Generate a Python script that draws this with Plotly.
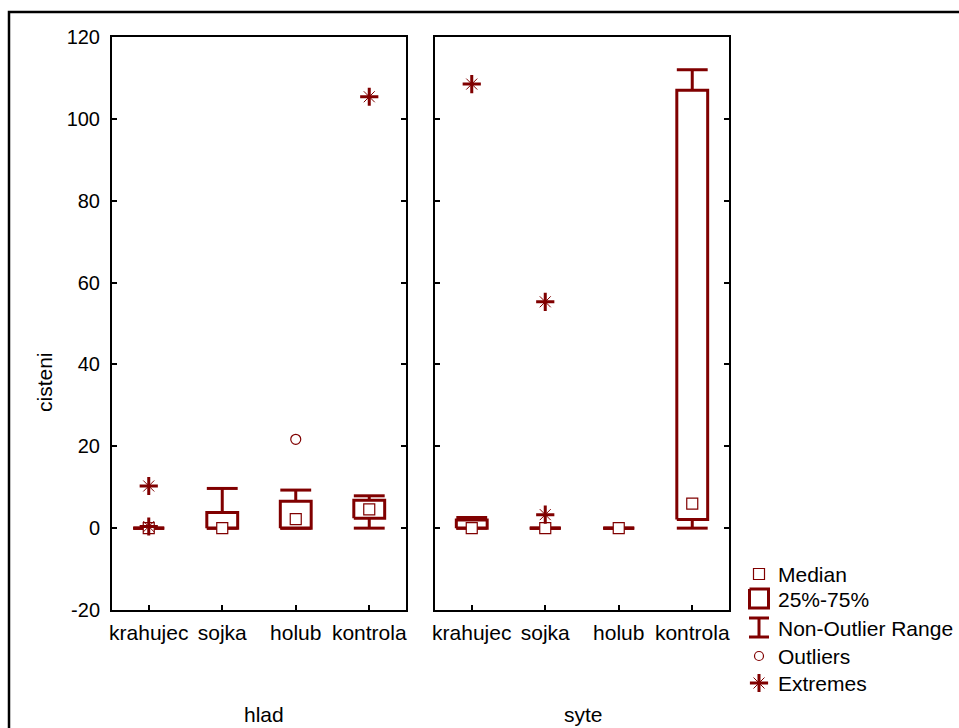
import plotly.graph_objects as go

# ---- data -------------------------------------------------------------
categories = ["krahujec", "sojka", "holub", "kontrola"]
groups = ["hlad", "syte"]

# box statistics, one value per category (same order as `categories`)
hlad_q1 = [0.0, 0.0, 0.0, 2.4]
hlad_median = [0.0, 0.0, 2.2, 4.6]
hlad_q3 = [0.0, 3.8, 6.6, 6.8]
hlad_low = [0.0, 0.0, 0.0, 0.0]
hlad_high = [0.0, 9.7, 9.3, 7.9]

syte_q1 = [0.0, 0.0, 0.0, 2.1]
syte_median = [0.0, 0.0, 0.0, 6.0]
syte_q3 = [2.0, 0.0, 0.0, 107.0]
syte_low = [0.0, 0.0, 0.0, 0.0]
syte_high = [2.6, 0.0, 0.0, 112.0]

# outliers and extremes: category index + value
hlad_outlier_cat = [2]
hlad_outlier_val = [21.7]
hlad_extreme_cat = [0, 0, 3]
hlad_extreme_val = [10.3, 0.4, 105.4]

syte_outlier_cat = []
syte_outlier_val = []
syte_extreme_cat = [0, 1, 1]
syte_extreme_val = [108.5, 55.3, 3.3]

y_ticks = [-20, 0, 20, 40, 60, 80, 100, 120]
y_tick_labels = ["-20", "0", "20", "40", "60", "80", "100", "120"]

# ---- styling ----------------------------------------------------------
W, H = 959, 728
RED = "#800000"
FONT = "Liberation Sans, Arial, sans-serif"
FS = 21
HALF = 0.21  # half box width in category units


def px(x):
    return x / W


def py(y):
    return 1 - y / H


panels = {
    "hlad": dict(q1=hlad_q1, med=hlad_median, q3=hlad_q3, lo=hlad_low, hi=hlad_high,
                 oc=hlad_outlier_cat, ov=hlad_outlier_val,
                 ec=hlad_extreme_cat, ev=hlad_extreme_val, xa="x", ya="y"),
    "syte": dict(q1=syte_q1, med=syte_median, q3=syte_q3, lo=syte_low, hi=syte_high,
                 oc=syte_outlier_cat, ov=syte_outlier_val,
                 ec=syte_extreme_cat, ev=syte_extreme_val, xa="x2", ya="y2"),
}

median_marker = dict(symbol="square", size=11, color="white", line=dict(color=RED, width=1.2))
outlier_marker = dict(symbol="circle-open", size=10, color=RED, line=dict(color=RED, width=1.2))
extreme_diag = dict(symbol="x-thin-open", size=11, color=RED, line=dict(color=RED, width=1))
extreme_cross = dict(symbol="cross-thin-open", size=13, color=RED, line=dict(color=RED, width=3))

fig = go.Figure()

for name, p in panels.items():
    xs, ys = [], []
    for i in range(len(categories)):
        q1, q3, lo, hi = p["q1"][i], p["q3"][i], p["lo"][i], p["hi"][i]
        l, r = i - HALF, i + HALF
        # box
        xs += [l, r, r, l, l, None]
        ys += [q1, q1, q3, q3, q1, None]
        # upper whisker + cap
        xs += [i, i, None, l, r, None]
        ys += [q3, hi, None, hi, hi, None]
        # lower whisker + cap
        xs += [i, i, None, l, r, None]
        ys += [q1, lo, None, lo, lo, None]
    common = dict(xaxis=p["xa"], yaxis=p["ya"], showlegend=False, hoverinfo="skip")
    fig.add_trace(go.Scatter(x=xs, y=ys, mode="lines", line=dict(color=RED, width=3), **common))
    fig.add_trace(go.Scatter(x=list(range(len(categories))), y=p["med"], mode="markers",
                             marker=median_marker, **common))
    fig.add_trace(go.Scatter(x=p["oc"], y=p["ov"], mode="markers", marker=outlier_marker, **common))
    fig.add_trace(go.Scatter(x=p["ec"], y=p["ev"], mode="markers", marker=extreme_diag, **common))
    fig.add_trace(go.Scatter(x=p["ec"], y=p["ev"], mode="markers", marker=extreme_cross, **common))

# ---- legend glyphs on a pixel-space overlay axis ----------------------
LX = 759
leg_y = {"Median": 574, "25%-75%": 599, "Non-Outlier Range": 628,
         "Outliers": 656, "Extremes": 683}
lg = dict(xaxis="x3", yaxis="y3", showlegend=False, hoverinfo="skip")
fig.add_trace(go.Scatter(x=[LX], y=[leg_y["Median"]], mode="markers", marker=median_marker, **lg))
fig.add_trace(go.Scatter(x=[LX - 9.5, LX + 9.5, LX + 9.5, LX - 9.5, LX - 9.5],
                         y=[589, 589, 608, 608, 589], mode="lines",
                         line=dict(color=RED, width=3), **lg))
fig.add_trace(go.Scatter(x=[LX - 10, LX + 10, None, LX, LX, None, LX - 10, LX + 10],
                         y=[618, 618, None, 618, 637, None, 637, 637], mode="lines",
                         line=dict(color=RED, width=3), **lg))
fig.add_trace(go.Scatter(x=[LX], y=[leg_y["Outliers"]], mode="markers",
                         marker=dict(outlier_marker, size=9), **lg))
fig.add_trace(go.Scatter(x=[LX], y=[leg_y["Extremes"]], mode="markers", marker=extreme_diag, **lg))
fig.add_trace(go.Scatter(x=[LX], y=[leg_y["Extremes"]], mode="markers", marker=extreme_cross, **lg))

txt = dict(family=FONT, size=FS, color="black")
annotations = []
for label, y in leg_y.items():
    annotations.append(dict(text=label, x=px(776), y=py(y), xref="paper", yref="paper",
                            xanchor="left", yanchor="middle", showarrow=False, font=txt))

# group titles and y-axis title
for label, gx in zip(groups, [264, 583]):
    annotations.append(dict(text=label, x=px(gx), y=py(714), xref="paper", yref="paper",
                            xanchor="center", yanchor="middle", showarrow=False, font=txt))
annotations.append(dict(text="cisteni", x=px(44), y=py(382), xref="paper", yref="paper",
                        xanchor="center", yanchor="middle", showarrow=False, textangle=-90,
                        font=txt))

y_dom = [py(610), py(37)]
axis_common = dict(showline=True, linecolor="black", linewidth=2, ticks="inside",
                   ticklen=5, tickwidth=2, tickcolor="black", showgrid=False,
                   zeroline=False, automargin=False)

fig.update_layout(
    template="none",
    width=W, height=H, autosize=False,
    margin=dict(l=0, r=0, t=0, b=0, pad=0),
    paper_bgcolor="white", plot_bgcolor="rgba(0,0,0,0)",
    showlegend=False,
    xaxis=dict(domain=[px(112), px(406)], range=[-0.5, 3.5], tickvals=list(range(4)),
               ticktext=categories, anchor="y", mirror=True, ticklabelstandoff=3,
               tickfont=txt, **axis_common),
    xaxis2=dict(domain=[px(435), px(729)], range=[-0.5, 3.5], tickvals=list(range(4)),
                ticktext=categories, anchor="y2", mirror=True, ticklabelstandoff=3,
                tickfont=txt, **axis_common),
    yaxis=dict(domain=y_dom, range=[-20, 120], tickvals=y_ticks, ticktext=y_tick_labels,
               anchor="x", mirror="ticks", ticklabelstandoff=6,
               tickfont=dict(txt, size=20), **axis_common),
    yaxis2=dict(domain=y_dom, range=[-20, 120], tickvals=y_ticks, anchor="x2",
                mirror="ticks", showticklabels=False, **axis_common),
    xaxis3=dict(domain=[0, 1], range=[0, W], visible=False, anchor="y3", automargin=False),
    yaxis3=dict(domain=[0, 1], range=[H, 0], visible=False, anchor="x3", automargin=False),
    annotations=annotations,
    shapes=[dict(type="rect", xref="paper", yref="paper",
                 x0=px(9), x1=px(W + 20), y0=py(H + 20), y1=py(12),
                 line=dict(color="black", width=2.5), layer="above")],
)

fig.write_html("out.html")
